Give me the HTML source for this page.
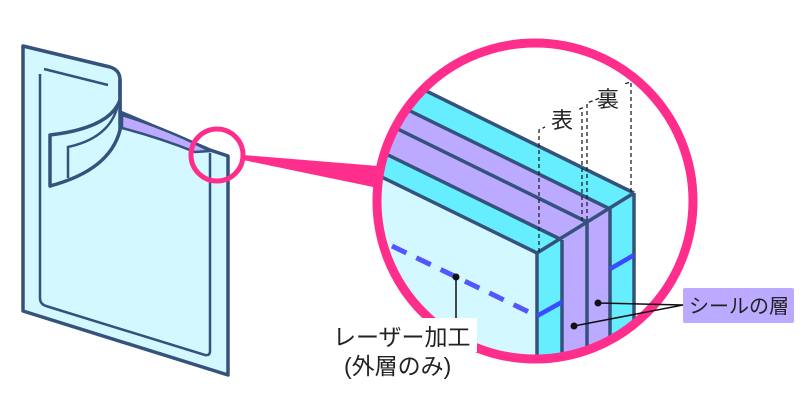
<!DOCTYPE html>
<html><head><meta charset="utf-8"><style>
html,body{margin:0;padding:0;background:#fff;width:800px;height:400px;overflow:hidden}
svg{display:block}
text{font-family:"Liberation Sans","Noto Sans CJK JP",sans-serif;fill:#222}
</style></head><body>
<svg width="800" height="400" viewBox="0 0 800 400" xmlns="http://www.w3.org/2000/svg">
<defs><clipPath id="c"><circle cx="535" cy="201" r="155"/></clipPath></defs>
<!-- left bag -->
<path d="M23,46 L110,67 Q120,70 120,80 L120,112 L210,150 L228,156 L228,375 L23,311 Z" fill="#D4F8FF" stroke="#34527C" stroke-width="3.5" stroke-linejoin="round"/>
<path d="M122,115 Q170,130 210,151 L195,152 Q160,138 122,128 Z" fill="#BBAAFF" stroke="#34527C" stroke-width="2.5"/>
<path d="M44,69 L108,85 M40,74 L40,298 Q40,304 46,306 L205,355 Q210,356 210,351 L210,153" fill="none" stroke="#34527C" stroke-width="2.5"/>
<path d="M120,80 L120,100 Q110,128 50,135 L50,186 Q110,170 120,130 Z" fill="#D4F8FF" stroke="#34527C" stroke-width="3.5" stroke-linejoin="round"/>
<path d="M68,178 L68,147 Q110,138 118,105" fill="none" stroke="#34527C" stroke-width="2.5"/>
<!-- connector wedge -->
<path d="M243,155 L378,166 L378,188 L243,160 Z" fill="#FF2E8C"/>
<circle cx="217" cy="155" r="26" fill="none" stroke="#FF2E8C" stroke-width="5"/>
<!-- inside big circle -->
<circle cx="535" cy="201" r="155" fill="#fff"/>
<g clip-path="url(#c)">
<polygon points="300,29 634,193 610,209 300,57" fill="#66EEFF"/>
<polygon points="300,57 610,209 587,222 300,81" fill="#BBAAFF"/>
<polygon points="300,81 587,222 562,240 300,112" fill="#BBAAFF"/>
<polygon points="300,112 562,240 537,253 300,137" fill="#66EEFF"/>
<polygon points="300,137 537,253 537,400 300,400" fill="#D4F8FF"/>
<polygon points="537,253 562,240 562,400 537,400" fill="#66EEFF"/>
<polygon points="562,240 587,222 587,400 562,400" fill="#BBAAFF"/>
<polygon points="587,222 610,209 610,400 587,400" fill="#BBAAFF"/>
<polygon points="610,209 634,193 634,400 610,400" fill="#66EEFF"/>
<g stroke="#34527C" stroke-width="3.5" fill="none" stroke-linejoin="round">
<path d="M634,193 L300,29 M610,209 L300,57 M587,222 L300,81 M562,240 L300,112 M537,253 L300,137"/>
<path d="M537,253 L634,193"/>
<path d="M537,253 V400 M562,240 V400 M587,222 V400 M610,209 V400 M634,193 V400"/>
</g>
<path d="M392,246 L535,315" stroke="#5555FF" stroke-width="5" stroke-dasharray="16,11" fill="none"/>
<path d="M537,316 L562,302 M610,269 L634,255" stroke="#3A4BFF" stroke-width="4.5"/>
</g>
<circle cx="535" cy="201" r="158" fill="none" stroke="#FF2E8C" stroke-width="9"/>
<!-- dashed guides -->
<g stroke="#222" stroke-width="1.3" fill="none" stroke-dasharray="4,3">
<path d="M539,252 V130 L545,127"/>
<path d="M582,221 V108 L577,110"/>
<path d="M587,220 V103 L600,98"/>
<path d="M631,192 V82 L624,84"/>
</g>
<text x="551" y="128" font-size="22">表</text>
<text x="597" y="107" font-size="22">裏</text>
<!-- laser label -->
<circle cx="456" cy="277" r="3.5" fill="#111"/>
<line x1="456" y1="277" x2="456" y2="320" stroke="#111" stroke-width="1.5"/>
<rect x="328" y="318" width="149" height="34" fill="#fff"/>
<text x="333" y="345" font-size="23">レーザー加工</text>
<text x="344" y="374" font-size="23">(外層のみ)</text>
<!-- seal label -->
<rect x="683" y="288" width="111" height="35" rx="2" fill="#BBAAFF"/>
<text x="689" y="313" font-size="20">シールの層</text>
<circle cx="598" cy="303" r="3.5" fill="#111"/>
<circle cx="574" cy="326" r="3.5" fill="#111"/>
<path d="M598,303 L683,305 L574,326" stroke="#111" stroke-width="1.5" fill="none"/>
</svg>
</body></html>
